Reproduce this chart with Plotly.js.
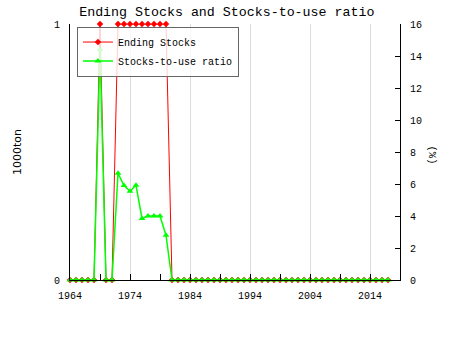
<!DOCTYPE html>
<html>
<head>
<meta charset="utf-8">
<script src="https://cdn.plot.ly/plotly-3.0.1.min.js"></script>
<style>html,body{margin:0;padding:0;background:#fff;}#chart{width:450px;height:350px;}</style>
</head>
<body>
<div id="chart"></div>
<script>
const years = [];
for (let y = 1964; y <= 2017; y++) years.push(y);

// Ending Stocks (1000ton), 1964..2017
const endingStocks = [
  0,0,0,0,0, 1, 0,0, 1,1,1,1,1,1,1,1,1, 0,
  0,0,0,0,0,0,0,0,0,0, 0,0,0,0,0,0,0,0,0,0,
  0,0,0,0,0,0,0,0,0,0, 0,0,0,0,0,0
];
// Stocks-to-use ratio (%), 1964..2017
const stocksToUse = [
  0,0,0,0,0, 14.4, 0,0, 6.67,5.9,5.55,5.92,3.85,4.0,4.0,4.0,2.8, 0,
  0,0,0,0,0,0,0,0,0,0, 0,0,0,0,0,0,0,0,0,0,
  0,0,0,0,0,0,0,0,0,0, 0,0,0,0,0,0
];

const mono = 'Liberation Mono, DejaVu Sans Mono, monospace';

const traces = [
  {
    x: years, y: endingStocks, name: 'Ending Stocks', type: 'scatter', mode: 'lines+markers',
    line: {color: '#ff0000', width: 1},
    marker: {symbol: 'diamond', size: 5, color: '#ff0000'},
    yaxis: 'y', cliponaxis: false
  },
  {
    x: years, y: stocksToUse, name: 'Stocks-to-use ratio', type: 'scatter', mode: 'lines+markers',
    line: {color: '#00ff00', width: 1.5},
    marker: {symbol: 'triangle-up', size: 6, color: '#00ff00'},
    yaxis: 'y2', cliponaxis: false
  }
];

const layout = {
  width: 450, height: 350,
  margin: {l: 70, r: 50, t: 24, b: 70},
  paper_bgcolor: '#ffffff', plot_bgcolor: '#ffffff',
  font: {family: mono, size: 10, color: '#000'},
  title: {text: 'Ending Stocks and Stocks-to-use ratio', font: {family: mono, size: 13.3, color: '#000'},
          x: 0.504, xref: 'container', y: 0.968, yref: 'container', xanchor: 'center', yanchor: 'middle'},
  showlegend: true,
  legend: {x: 0.021, y: 0.99, xanchor: 'left', yanchor: 'top', bgcolor: 'rgba(255,255,255,0.8)',
           bordercolor: '#666', borderwidth: 1, font: {family: mono, size: 10, color: '#000'},
           itemwidth: 30, tracegroupgap: 0},
  xaxis: {
    range: [1964, 2019], tickmode: 'linear', tick0: 1964, dtick: 10,
    ticks: 'inside', ticklen: 6, tickcolor: '#000', ticklabelstandoff: 6,
    minor: {tick0: 1964, dtick: 5, ticks: 'inside', ticklen: 6, tickcolor: '#000', showgrid: false},
    showgrid: true, gridcolor: '#dcdcdc', gridwidth: 1,
    showline: true, linecolor: '#000', linewidth: 1, zeroline: false,
    tickfont: {family: mono, size: 10, color: '#000'}
  },
  yaxis: {
    range: [0, 1], tickvals: [0, 1], ticktext: ['0', '1'],
    ticks: 'inside', ticklen: 5, tickcolor: '#000', ticklabelstandoff: 7,
    showgrid: true, gridcolor: '#dcdcdc', zeroline: false,
    showline: true, linecolor: '#000', linewidth: 1,
    tickfont: {family: mono, size: 10, color: '#000'},
    title: {text: '1000ton', font: {family: 'DejaVu Sans, sans-serif', size: 11, color: '#000'}, standoff: 30}
  },
  yaxis2: {
    overlaying: 'y', side: 'right', range: [0, 16], tickmode: 'linear', tick0: 0, dtick: 2,
    ticks: 'inside', ticklen: 5, tickcolor: '#000', ticklabelstandoff: 7,
    showgrid: false, zeroline: false,
    showline: true, linecolor: '#000', linewidth: 1,
    tickfont: {family: mono, size: 10, color: '#000'}
  },
  annotations: [
    {text: '(%)', xref: 'paper', yref: 'paper', x: 1.097, y: 0.49, showarrow: false, textangle: 90,
     font: {family: mono, size: 10.5, color: '#000'}, xanchor: 'center', yanchor: 'middle'}
  ]
};

Plotly.newPlot('chart', traces, layout, {displayModeBar: false, staticPlot: true});
</script>
</body>
</html>
